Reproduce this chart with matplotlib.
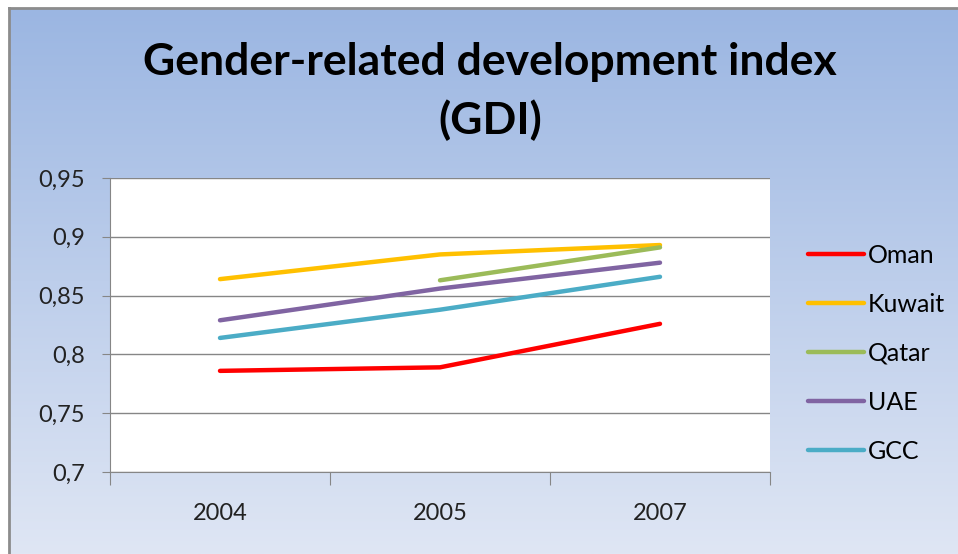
import matplotlib.pyplot as plt
import numpy as np

years = ['2004', '2005', '2007']
oman = [0.786, 0.789, 0.826]
kuwait = [0.864, 0.885, 0.893]
qatar = [np.nan, 0.863, 0.891]
uae = [0.829, 0.856, 0.878]
gcc = [0.814, 0.838, 0.866]

series = [('Oman', oman, '#ff0000'),
          ('Kuwait', kuwait, '#ffc000'),
          ('Qatar', qatar, '#9bbb59'),
          ('UAE', uae, '#8064a2'),
          ('GCC', gcc, '#4bacc6')]

plt.rcParams['font.family'] = ['Lato', 'DejaVu Sans']

fig = plt.figure(figsize=(9.58, 5.54), dpi=100)
fig.patch.set_facecolor('white')

# gradient background with grey frame
bg = fig.add_axes([9/958, 0, 1 - 9/958, 1 - 8/554])
top = np.array([155, 182, 226]) / 255
bot = np.array([223, 230, 244]) / 255
t = np.linspace(0, 1, 256)[:, None]
grad = top[None, :] * (1 - t) + bot[None, :] * t
bg.imshow(grad[:, None, :], aspect='auto', extent=[0, 1, 0, 1])
bg.set_xticks([]); bg.set_yticks([])
for s in ['right', 'bottom']:
    bg.spines[s].set_visible(False)
for s in ['left', 'top']:
    bg.spines[s].set_color('#8c8c8c')
    bg.spines[s].set_linewidth(2)

ax = fig.add_axes([110/958, 1 - 472/554, 660/958, 294/554])
ax.set_facecolor('white')
x = np.arange(len(years))
for name, vals, col in series:
    ax.plot(x, vals, color=col, lw=3.2, label=name, solid_capstyle='round')

ax.set_xlim(-0.5, 2.5)
ax.set_ylim(0.7, 0.95)
yt = [0.7, 0.75, 0.8, 0.85, 0.9, 0.95]
ax.set_yticks(yt)
ax.set_yticklabels([f'{v:g}'.replace('.', ',') for v in yt], fontsize=17, color='#222222')
ax.yaxis.grid(True, color='#868686', lw=1)
ax.set_axisbelow(True)
ax.tick_params(axis='y', length=6, color='#868686', pad=12)

ax.set_xticks([-0.5, 0.5, 1.5, 2.5])
ax.set_xticklabels([])
ax.set_xticks(x, minor=True)
ax.set_xticklabels(years, minor=True, fontsize=17, color='#222222')
ax.tick_params(axis='x', which='major', length=9, color='#868686')
ax.tick_params(axis='x', which='minor', length=0, pad=22)

for s in ['top', 'right']:
    ax.spines[s].set_visible(False)
for s in ['left', 'bottom']:
    ax.spines[s].set_color('#868686')

fig.text(490/958, 1 - 62/554, 'Gender-related development index', ha='center', va='center',
         fontsize=32, fontweight='bold')
fig.text(490/958, 1 - 120/554, '(GDI)', ha='center', va='center',
         fontsize=32, fontweight='bold')

fig.legend(loc='upper left', bbox_to_anchor=(808/958, 1 - 244/554), frameon=False,
           fontsize=18, handlelength=2.24, handletextpad=0.16, labelspacing=1.04,
           borderaxespad=0, borderpad=0)

fig.savefig('out.png', dpi=100)
